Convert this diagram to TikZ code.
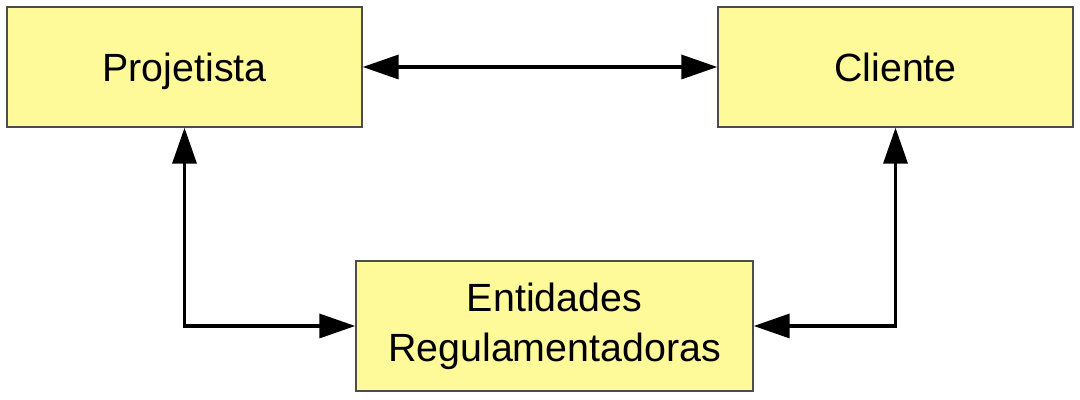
\documentclass[tikz,border=0pt]{standalone}
\usepackage{fontspec}
\setmainfont{Liberation Sans}
\usetikzlibrary{arrows.meta, positioning}

\tikzset{
  actor/.style={draw=black!70, line width=1pt, fill=yellow!40, minimum width=8.875cm,
    minimum height=3cm, inner sep=0pt, align=center, text height=20pt, text depth=0pt,
    font=\fontsize{28}{35.5}\selectfont},
  link/.style={line width=2.5pt, {Triangle[length=0.9cm, width=0.6cm]}-{Triangle[length=0.9cm, width=0.6cm]}}
}

\begin{document}
\begin{tikzpicture}
  \useasboundingbox (0,0) rectangle (27,10);
  \node[actor] (proj) at (4.6125,8.325) {Projetista};
  \node[actor] (cli) at (22.3875,8.325) {Cliente};
  \node[actor, minimum width=9.925cm, minimum height=3.25cm, text height=, text depth=]
    (ent) at (13.8625,1.85) {Entidades\\Regulamentadoras};
  \draw[link] (proj) -- (cli);
  \draw[link] (proj.south) |- (ent.west);
  \draw[link] (cli.south) |- (ent.east);
\end{tikzpicture}
\end{document}
